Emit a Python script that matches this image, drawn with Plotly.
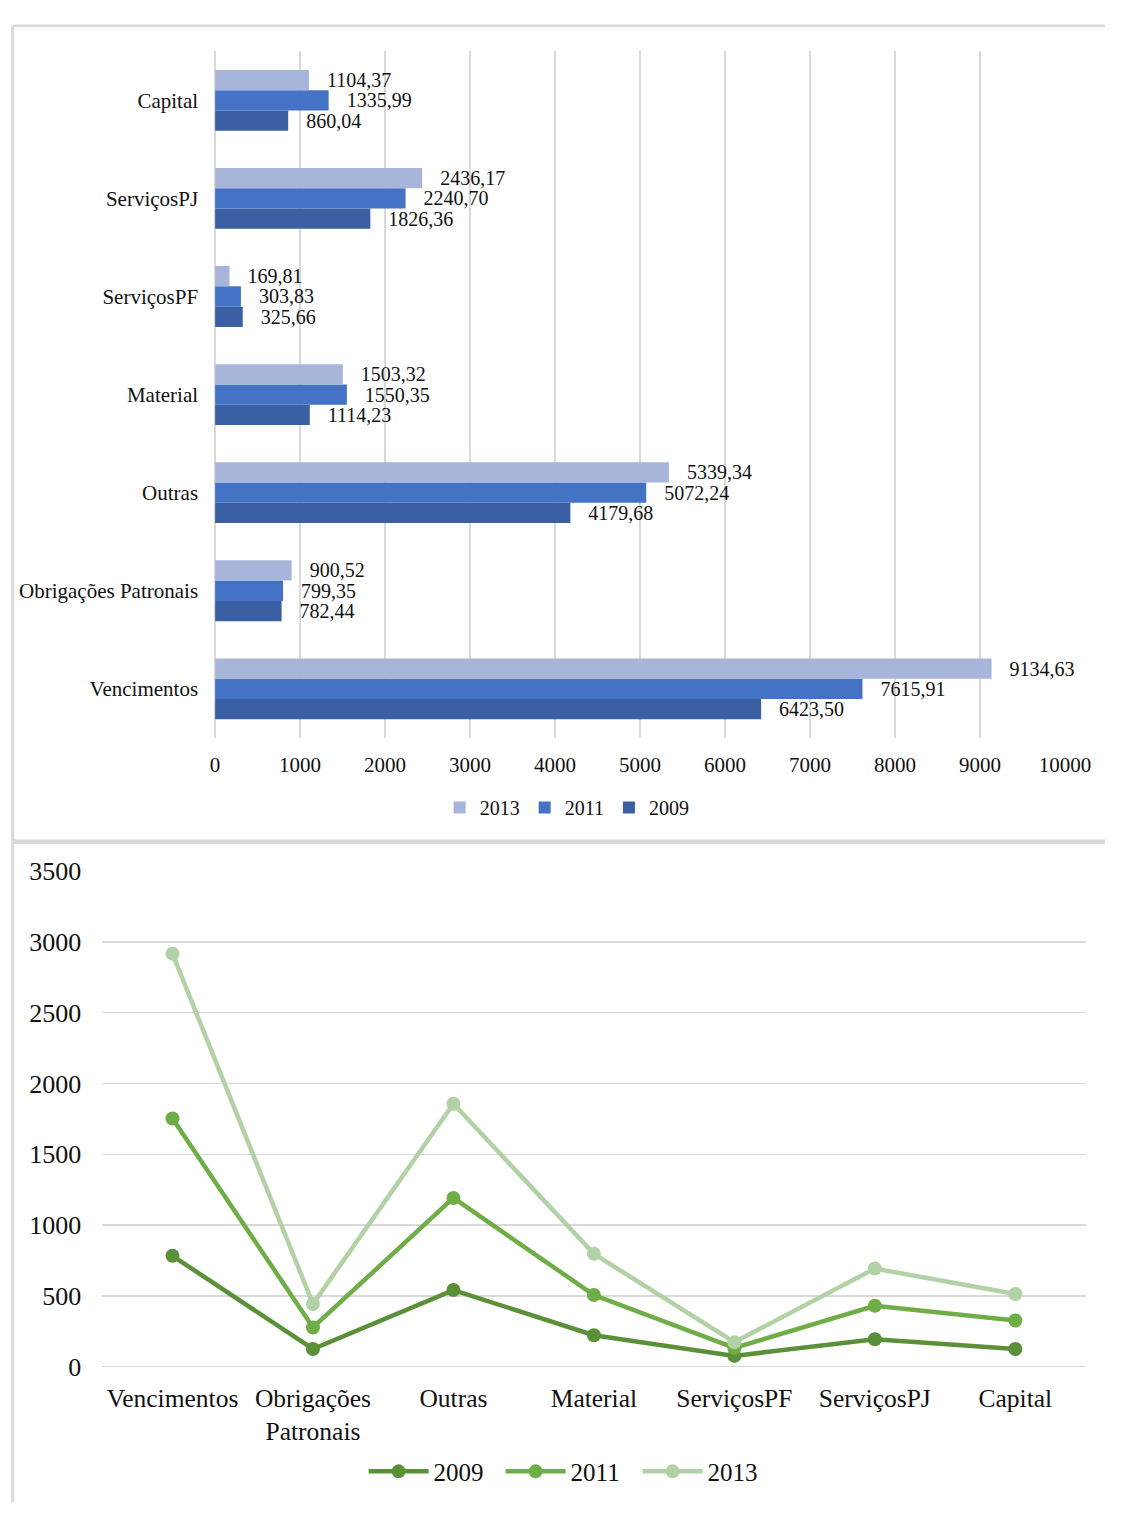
import plotly.graph_objects as go

categories = ["Vencimentos", "Obrigações Patronais", "Outras", "Material",
              "ServiçosPF", "ServiçosPJ", "Capital"]
line_labels = ["Vencimentos", "Obrigações<br>Patronais", "Outras", "Material",
               "ServiçosPF", "ServiçosPJ", "Capital"]

bar_2009 = [6423.50, 782.44, 4179.68, 1114.23, 325.66, 1826.36, 860.04]
bar_2011 = [7615.91, 799.35, 5072.24, 1550.35, 303.83, 2240.70, 1335.99]
bar_2013 = [9134.63, 900.52, 5339.34, 1503.32, 169.81, 2436.17, 1104.37]

line_2009 = [783, 125, 541, 222, 76, 194, 125]
line_2011 = [1753, 277, 1192, 506, 132, 430, 326]
line_2013 = [2918, 443, 1857, 797, 173, 693, 513]

bar_ticks = [0, 1000, 2000, 3000, 4000, 5000, 6000, 7000, 8000, 9000, 10000]
line_ticks = [0, 500, 1000, 1500, 2000, 2500, 3000, 3500]

W, H = 1131, 1517
FONT = "Liberation Serif"


def fmt(v):
    return f"{v:.2f}".replace(".", ",")


def px(X):
    return min(1.0, max(0.0, X / W))


def py(Y):
    return min(1.0, max(0.0, 1 - Y / H))


fig = go.Figure()

bar_series = [("2009", bar_2009, "#3A5FA3"), ("2011", bar_2011, "#4472C4"),
              ("2013", bar_2013, "#A8B5DA")]
for name, vals, col in bar_series:
    fig.add_trace(go.Bar(
        y=categories, x=vals, name=name, orientation="h",
        marker=dict(color=col, line=dict(width=0)),
        text=[fmt(v) for v in vals], textposition="outside",
        texttemplate="\u00a0\u00a0\u00a0%{text}",
        textfont=dict(family=FONT, size=20, color="#111"),
        constraintext="none", cliponaxis=False, hoverinfo="skip",
        xaxis="x", yaxis="y", legend="legend",
    ))

line_series = [("2009", line_2009, "#5A9138"), ("2011", line_2011, "#6FAD46"),
               ("2013", line_2013, "#B2D1A5")]
for name, vals, col in line_series:
    fig.add_trace(go.Scatter(
        x=line_labels, y=vals, name=name, mode="lines+markers",
        line=dict(color=col, width=4.5),
        marker=dict(color=col, size=14),
        xaxis="x2", yaxis="y2", legend="legend2", cliponaxis=False,
        hoverinfo="skip",
    ))

fig.update_layout(
    width=W, height=H,
    margin=dict(l=0, r=0, t=0, b=0),
    paper_bgcolor="white", plot_bgcolor="white",
    font=dict(family=FONT, color="#111"),
    barmode="group", bargap=0.38, bargroupgap=0,
    showlegend=True, dragmode=False, hovermode=False,
    xaxis=dict(domain=[px(216), px(1090)], range=[0, 10000],
               tickvals=bar_ticks, ticktext=[str(t) for t in bar_ticks],
               showgrid=True, gridcolor="#D9D9D9", gridwidth=1.3,
               zeroline=True, zerolinecolor="#D9D9D9", zerolinewidth=1.3,
               showline=False, ticks="", ticklabelstandoff=12,
               tickfont=dict(family=FONT, size=21, color="#111"),
               anchor="y", fixedrange=True),
    yaxis=dict(domain=[py(738), py(38)], type="category",
               categoryorder="array", categoryarray=categories,
               showgrid=False, showline=False, ticks="",
               ticklabelstandoff=16,
               tickfont=dict(family=FONT, size=21, color="#111"),
               anchor="x", fixedrange=True),
    xaxis2=dict(domain=[px(100), px(1111)], type="category",
                range=[-0.5, 6.5], showgrid=False, showline=False,
                ticks="", ticklabelstandoff=14,
                tickfont=dict(family=FONT, size=25.5, color="#111"),
                anchor="y2", fixedrange=True),
    yaxis2=dict(domain=[py(1379), py(874)], range=[0, 3500],
                tickvals=line_ticks, ticktext=[str(t) for t in line_ticks],
                showgrid=True, gridcolor="#D9D9D9", gridwidth=1.3,
                zeroline=True, zerolinecolor="#D9D9D9", zerolinewidth=1.3,
                showline=False, ticks="", ticklabelstandoff=20,
                tickfont=dict(family=FONT, size=26, color="#111"),
                anchor="x2", fixedrange=True),
    legend=dict(orientation="h", x=px(578), y=py(809), xanchor="center",
                yanchor="middle", traceorder="reversed",
                font=dict(family=FONT, size=20, color="#111"),
                itemwidth=30, bgcolor="rgba(0,0,0,0)"),
    legend2=dict(orientation="h", x=px(580), y=py(1486), xanchor="center",
                 yanchor="middle",
                 font=dict(family=FONT, size=25, color="#111"),
                 itemwidth=60, entrywidth=62, entrywidthmode="pixels",
                 bgcolor="rgba(0,0,0,0)"),
    shapes=[
        dict(type="line", xref="paper", yref="paper", x0=px(8), x1=1,
             y0=py(12), y1=py(12), line=dict(color="#D9D9D9", width=2.5)),
        dict(type="line", xref="paper", yref="paper", x0=px(8), x1=px(8),
             y0=py(12), y1=0, line=dict(color="#D9D9D9", width=3)),
        dict(type="line", xref="paper", yref="paper", x0=px(8), x1=1,
             y0=py(844), y1=py(844), line=dict(color="#D9D9D9", width=4.5)),
    ],
)

fig.write_html(
    "out.html",
    config={"displayModeBar": False, "staticPlot": True},
    post_script="document.body.style.margin='0';"
                "document.body.style.overflow='hidden';",
)
